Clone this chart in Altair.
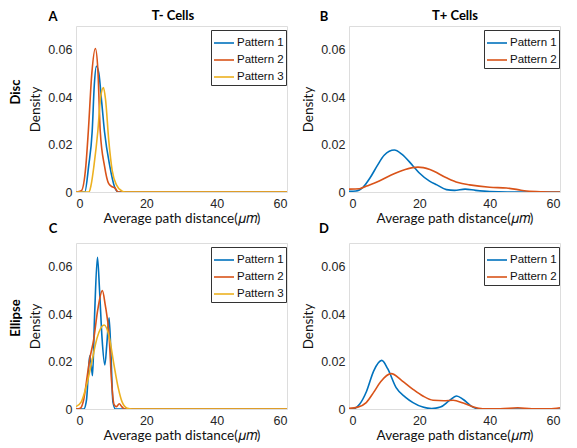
import altair as alt
import pandas as pd

# ---------------- data ----------------
patterns3 = ["Pattern 1", "Pattern 2", "Pattern 3"]
patterns2 = ["Pattern 1", "Pattern 2"]
colors3 = ["#0072BD", "#D95319", "#EDB120"]
colors2 = ["#0072BD", "#D95319"]

x_ticks = [0, 20, 40, 60]
y_ticks = [0, 0.02, 0.04, 0.06]

# Panel A  (Disc, T- cells)
A1_x = [0, 2.5, 3.6, 4.6, 5.2, 5.8, 6.5, 7.3, 8.1, 9.6, 11, 12, 60]
A1_y = [0, 0, 0.011, 0.0255, 0.045, 0.053, 0.05, 0.038, 0.0255, 0.011, 0.002, 0, 0]
A2_x = [0, 1.5, 2.8, 3.5, 4.5, 5.5, 6.2, 6.9, 8.1, 9.3, 10.3, 11, 12, 60]
A2_y = [0, 0.0005, 0.011, 0.0255, 0.05, 0.0605, 0.052, 0.0255, 0.011, 0.0035, 0.0022, 0.0018, 0, 0]
A3_x = [0, 3.7, 4.3, 5.1, 6.2, 7.0, 7.8, 8.4, 9.3, 10.3, 11.5, 13, 14, 60]
A3_y = [0, 0, 0.003, 0.011, 0.0255, 0.04, 0.044, 0.039, 0.022, 0.009, 0.003, 0.0005, 0, 0]

# Panel B  (Disc, T+ cells)
B1_x = [0, 2, 4, 6, 8, 10, 12.9, 15, 18.2, 20, 22.9, 25, 27.7, 30, 33, 36, 40, 45, 60]
B1_y = [0.0003, 0.0004, 0.002, 0.006, 0.011, 0.0155, 0.0177, 0.016, 0.011, 0.008, 0.0046, 0.003, 0.001,
        0.0007, 0.0012, 0.0007, 0.0002, 0, 0]
B2_x = [0, 3, 5, 8.6, 12, 16, 19.6, 23, 27.7, 31, 34.3, 40, 44.8, 48, 50.5, 55, 60]
B2_y = [0.0012, 0.0014, 0.0025, 0.0046, 0.0072, 0.0095, 0.0105, 0.0095, 0.006, 0.004, 0.003, 0.002,
        0.0017, 0.001, 0.0004, 0.0001, 0]

# Panel C  (Ellipse, T- cells)
C1_x = [0, 2.2, 3, 3.5, 3.9, 4.3, 4.7, 5.3, 6.1, 6.7, 7.4, 8.2, 8.8, 9.4, 9.9, 10.5, 11.2, 60]
C1_y = [0, 0, 0.004, 0.015, 0.0224, 0.019, 0.014, 0.04, 0.064, 0.05, 0.03, 0.0186, 0.028, 0.0385,
        0.025, 0.003, 0, 0]
C2_x = [0, 1.2, 2.2, 3.2, 3.9, 5, 6.2, 7.5, 8.3, 9.4, 10.1, 10.8, 11.5, 12.3, 13, 13.8, 60]
C2_y = [0, 0.0003, 0.004, 0.014, 0.021, 0.029, 0.042, 0.0499, 0.044, 0.031, 0.012, 0.002, 0.001,
        0.0022, 0.001, 0, 0]
C3_x = [0, 1.5, 3, 4.5, 6, 8, 9.5, 10.8, 12, 13.1, 14.6, 16, 60]
C3_y = [0.001, 0.003, 0.01, 0.02, 0.03, 0.0354, 0.03, 0.0186, 0.009, 0.003, 0.0003, 0, 0]

# Panel D  (Ellipse, T+ cells)
D1_x = [0, 1.5, 3, 5, 7, 9.3, 11, 13.4, 16, 18.2, 21, 23.5, 26, 28.5, 30.6, 32.5, 35, 37, 60]
D1_y = [0, 0.0002, 0.002, 0.0075, 0.016, 0.0205, 0.017, 0.009, 0.005, 0.0027, 0.0008, 0.0002, 0.0008,
        0.0035, 0.0055, 0.004, 0.001, 0, 0]
D2_x = [0, 2.5, 4.9, 7, 9, 12, 15, 18.2, 21, 23.9, 27, 29.6, 32.5, 35.3, 38, 43, 48, 52, 57, 60]
D2_y = [0.0003, 0.0008, 0.0027, 0.007, 0.0115, 0.0149, 0.012, 0.0083, 0.0055, 0.0037, 0.0035, 0.0037,
        0.0025, 0.0009, 0.0001, 0.0001, 0.0005, 0.0001, 0.0001, 0.0005]

W, H = 211, 166
TICK_FONT = "Liberation Sans"
TITLE_FONT = "Lato"
XTITLE = "Average path distance(\U0001D707\U0001D45A)"


def panel(curves, names, cols, letter, letter_xy, col_title=None, col_title_x=None, row_label=None,
          row_label_y=None):
    rows = []
    for name, xs, ys in curves:
        for xv, yv in zip(xs, ys):
            rows.append({"x": xv, "y": yv, "pattern": name})
    df = pd.DataFrame(rows)

    lines = alt.Chart(df).mark_line(strokeWidth=1.6, interpolate="monotone", clip=True).encode(
        x=alt.X("x:Q", scale=alt.Scale(domain=[0, 60], nice=False),
                axis=alt.Axis(values=x_ticks, title=XTITLE, ticks=False, domain=False, grid=False,
                              labelFont=TICK_FONT, labelFontSize=12.5, labelColor="#262626",
                              labelPadding=5, titleFont=TITLE_FONT, titleFontSize=13.5,
                              titleFontWeight="normal", titleColor="#111", titlePadding=2)),
        y=alt.Y("y:Q", scale=alt.Scale(domain=[0, 0.07], nice=False),
                axis=alt.Axis(values=y_ticks, title="Density", ticks=False, domain=False, grid=False,
                              labelExpr="datum.value == 0 ? '0' : format(datum.value, '.2f')",
                              labelFont=TICK_FONT, labelFontSize=12.5, labelColor="#262626",
                              labelPadding=4, titleFont=TITLE_FONT, titleFontSize=13.5,
                              titleFontWeight="normal", titleColor="#111", titlePadding=5)),
        color=alt.Color("pattern:N", scale=alt.Scale(domain=names, range=cols),
                        legend=alt.Legend(title=None, orient="none", legendX=135, legendY=4,
                                          fillColor="white", strokeColor="#333", padding=2,
                                          symbolType="stroke", symbolSize=400, symbolStrokeWidth=1.6,
                                          labelFont=TICK_FONT, labelFontSize=11.5, labelColor="#111",
                                          labelOffset=2, rowPadding=-2)),
    ).properties(width=W, height=H)

    layers = [lines]
    layers.append(alt.Chart(pd.DataFrame({"t": [letter]})).mark_text(
        font=TITLE_FONT, fontSize=13, fontWeight="bold", color="black", align="center", baseline="middle"
    ).encode(text="t:N", x=alt.value(letter_xy[0]), y=alt.value(letter_xy[1])))
    if col_title:
        layers.append(alt.Chart(pd.DataFrame({"t": [col_title]})).mark_text(
            font=TITLE_FONT, fontSize=13, fontWeight="bold", color="black", align="center",
            baseline="middle"
        ).encode(text="t:N", x=alt.value(col_title_x), y=alt.value(-10)))
    if row_label:
        layers.append(alt.Chart(pd.DataFrame({"t": [row_label]})).mark_text(
            font=TITLE_FONT, fontSize=13, fontWeight="bold", color="black", align="center",
            baseline="middle", angle=270
        ).encode(text="t:N", x=alt.value(-60), y=alt.value(row_label_y)))
    return alt.layer(*layers)


pA = panel([("Pattern 1", A1_x, A1_y), ("Pattern 2", A2_x, A2_y), ("Pattern 3", A3_x, A3_y)],
           patterns3, colors3, "A", (-23, -9), "T- Cells", 97, "Disc", 66)
pB = panel([("Pattern 1", B1_x, B1_y), ("Pattern 2", B2_x, B2_y)],
           patterns2, colors2, "B", (-25, -9), "T+ Cells", 106)
pC = panel([("Pattern 1", C1_x, C1_y), ("Pattern 2", C2_x, C2_y), ("Pattern 3", C3_x, C3_y)],
           patterns3, colors3, "C", (-23, -14), None, None, "Ellipse", 75)
pD = panel([("Pattern 1", D1_x, D1_y), ("Pattern 2", D2_x, D2_y)],
           patterns2, colors2, "D", (-25, -14))

chart = alt.concat(pA, pB, pC, pD, columns=2, spacing={"row": 51, "column": 62},
                   bounds="flush").resolve_scale(
    color="independent"
).properties(
    padding={"left": 1, "top": 1, "right": 0, "bottom": 0}
).configure_view(
    stroke="#8a8a8a", strokeWidth=1
).configure(background="white")

chart.save("out.html", embed_options={"renderer": "svg", "actions": False})
